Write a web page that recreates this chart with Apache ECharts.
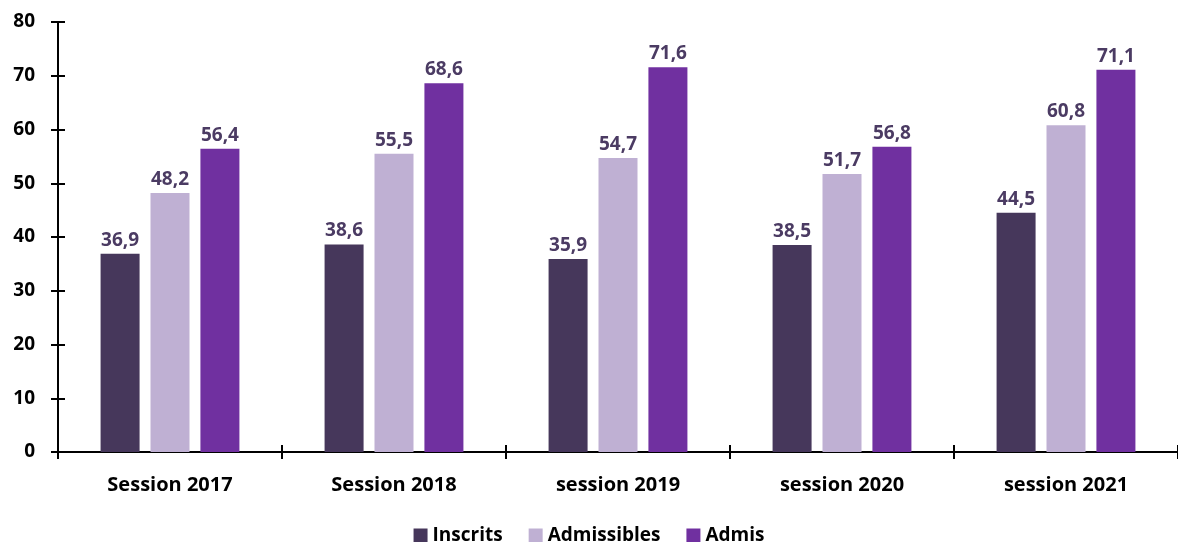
<!DOCTYPE html>
<html>
<head>
<meta charset="utf-8">
<script src="https://cdn.jsdelivr.net/npm/echarts@6/dist/echarts.min.js"></script>
<style>
  html, body { margin: 0; padding: 0; background: #fff; }
  #chart { width: 1178px; height: 542px; }
</style>
</head>
<body>
<div id="chart"></div>
<script>
const categories = ['Session 2017', 'Session 2018', 'session 2019', 'session 2020', 'session 2021']
const inscrits = [36.9, 38.6, 35.9, 38.5, 44.5]
const admissibles = [48.2, 55.5, 54.7, 51.7, 60.8]
const admis = [56.4, 68.6, 71.6, 56.8, 71.1]

const font = '"Open Sans", Lato, sans-serif'
const labelColor = '#4b3b63'

const chart = echarts.init(document.getElementById('chart'))

function barSeries (name, data, color) {
  return {
    name: name,
    type: 'bar',
    data: data,
    barWidth: 39,
    barGap: '28%',
    itemStyle: { color: color },
    label: {
      show: true,
      position: 'top',
      distance: 4,
      color: labelColor,
      fontFamily: font,
      fontWeight: 'bold',
      fontSize: 19,
      formatter: (p) => String(p.value).replace('.', ',')
    }
  }
}

const option = {
  animation: false,
  grid: { left: 58, right: -8, top: 22, bottom: 90 },
  legend: {
    top: 521,
    left: 'center',
    itemWidth: 14,
    itemHeight: 14,
    itemGap: 26,
    icon: 'rect',
    textStyle: { color: '#000', fontFamily: font, fontWeight: 'bold', fontSize: 19 },
    data: ['Inscrits', 'Admissibles', 'Admis']
  },
  xAxis: [
    {
      type: 'category',
      data: categories,
      axisLine: { lineStyle: { color: '#000', width: 2 } },
      axisTick: { show: true, length: 7, lineStyle: { color: '#000', width: 2 } },
      axisLabel: { margin: 23, color: '#000', fontFamily: font, fontWeight: 'bold', fontSize: 20 }
    },
    {
      type: 'category',
      data: categories,
      position: 'bottom',
      axisLine: { show: false },
      axisTick: { show: true, inside: true, length: 7, lineStyle: { color: '#000', width: 2 } },
      axisLabel: { show: false }
    }
  ],
  yAxis: [
    {
      type: 'value',
      min: 0,
      max: 80,
      interval: 10,
      splitLine: { show: false },
      axisLine: { show: true, lineStyle: { color: '#000', width: 2 } },
      axisTick: { show: true, length: 7, lineStyle: { color: '#000', width: 2 } },
      axisLabel: { margin: 23, color: '#000', fontFamily: font, fontWeight: 'bold', fontSize: 19 }
    },
    {
      type: 'value',
      position: 'left',
      min: 0,
      max: 80,
      interval: 10,
      splitLine: { show: false },
      axisLine: { show: false },
      axisTick: { show: true, inside: true, length: 7, lineStyle: { color: '#000', width: 2 } },
      axisLabel: { show: false }
    }
  ],
  series: [
    barSeries('Inscrits', inscrits, '#46375b'),
    barSeries('Admissibles', admissibles, '#bfb0d3'),
    barSeries('Admis', admis, '#7030a0')
  ]
}
chart.setOption(option)
</script>
</body>
</html>
